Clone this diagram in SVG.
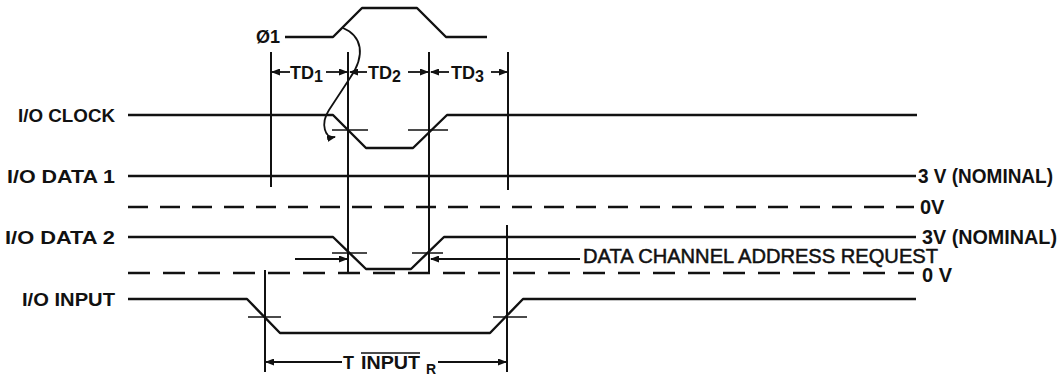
<svg xmlns="http://www.w3.org/2000/svg" width="1063" height="376" viewBox="0 0 1063 376">
<style>
.w{fill:none;stroke:#111;stroke-width:2.4;stroke-linejoin:round}
.v{fill:none;stroke:#111;stroke-width:2}
.t{fill:none;stroke:#111;stroke-width:1.6}
.d1{fill:none;stroke:#111;stroke-width:2.4;stroke-dasharray:20 12}
.d2{fill:none;stroke:#111;stroke-width:2.4;stroke-dasharray:22 13}
.a{fill:none;stroke:#111;stroke-width:1.8;marker-end:url(#ah)}
text{font-family:"Liberation Sans",Arial,sans-serif;fill:#111}
.lb{font-size:18px;font-weight:bold}
.rb{font-size:20px;font-weight:bold}
</style>
<defs>
<marker id="ah" markerUnits="userSpaceOnUse" markerWidth="9" markerHeight="7" refX="8" refY="3.5" orient="auto">
<path d="M0,0 L9,3.5 L0,7 z" fill="#111"/>
</marker>
</defs>
<rect width="1063" height="376" fill="#fff"/>

<g id="phi1">
<path class="w" d="M285 37 L333 37 L362 8 L417 8 L446 37 L487 37"/>
<text class="lb" x="256" y="43">Ø1</text>
</g>

<g id="io-clock">
<text class="lb" x="115" y="121.5" text-anchor="end" textLength="97" lengthAdjust="spacingAndGlyphs">I/O CLOCK</text>
<path class="w" d="M128 115 L333 115 L366 148 L413 148 L447 115 L917 115"/>
</g>

<g id="io-data1">
<text class="lb" x="115" y="182.5" text-anchor="end" textLength="108" lengthAdjust="spacingAndGlyphs">I/O DATA 1</text>
<path class="w" d="M128 176 H916"/>
<text class="rb" x="918" y="183" textLength="135" lengthAdjust="spacingAndGlyphs">3 V (NOMINAL)</text>
<path class="d1" d="M128 207 H914"/>
<text class="rb" x="920" y="214">0V</text>
</g>

<g id="io-data2">
<text class="lb" x="115" y="243.5" text-anchor="end" textLength="110" lengthAdjust="spacingAndGlyphs">I/O DATA 2</text>
<path class="w" d="M128 237 L333 237 L366 269 L411 269 L444 237 L916 237"/>
<text class="rb" x="922" y="244" textLength="135" lengthAdjust="spacingAndGlyphs">3V (NOMINAL)</text>
<path class="d2" d="M128 273 H914"/>
<text class="rb" x="922" y="282">0 V</text>
</g>

<g id="dcar">
<text x="583" y="263" font-size="20" stroke="#111" stroke-width="0.5" textLength="355" lengthAdjust="spacingAndGlyphs">DATA CHANNEL ADDRESS REQUEST</text>
</g>

<g id="io-input">
<text class="lb" x="115" y="305.5" text-anchor="end" textLength="93" lengthAdjust="spacingAndGlyphs">I/O INPUT</text>
<path class="w" d="M128 299 L247 299 L280 333 L490 333 L523 299 L916 299"/>
</g>

<g id="td-labels">
<text class="lb" x="290" y="78.5">TD<tspan font-size="16" dy="3">1</tspan></text>
<text class="lb" x="368" y="78.5">TD<tspan font-size="16" dy="3">2</tspan></text>
<text class="lb" x="451" y="78.5">TD<tspan font-size="16" dy="3">3</tspan></text>
</g>

<g id="tinput">
<text class="lb" x="343" y="369">T</text>
<text class="lb" x="361" y="369" textLength="59" lengthAdjust="spacingAndGlyphs">INPUT</text>
<path class="t" d="M361 353 H420"/>
<text x="426" y="374" font-size="14" font-weight="bold">R</text>
</g>

<g id="connectors">
<path class="v" d="M271 52 V187 M348 52 V273 M429 52 V273 M508 52 V190 M265 270 V372 M507 225 V372"/>
<path class="t" d="M332 130 H368 M408 130 H448 M332 253 H367 M412 253 H443 M248 317 H281 M493 317 H527"/>
<path class="a" d="M290 72 H272"/>
<path class="a" d="M326 72 H347"/>
<path class="a" d="M367 72 H350"/>
<path class="a" d="M408 72 H428"/>
<path class="a" d="M449 72 H431"/>
<path class="a" d="M491 72 H507"/>
<path class="a" d="M295 259 H347"/>
<path class="a" d="M580 259 H431"/>
<path class="a" d="M342 362 H266"/>
<path class="a" d="M438 362 H506"/>
<path class="a" d="M343 28 C362 36 366 55 350 78 L329 110 C320 124 325 139 335 137"/>
</g>
</svg>
